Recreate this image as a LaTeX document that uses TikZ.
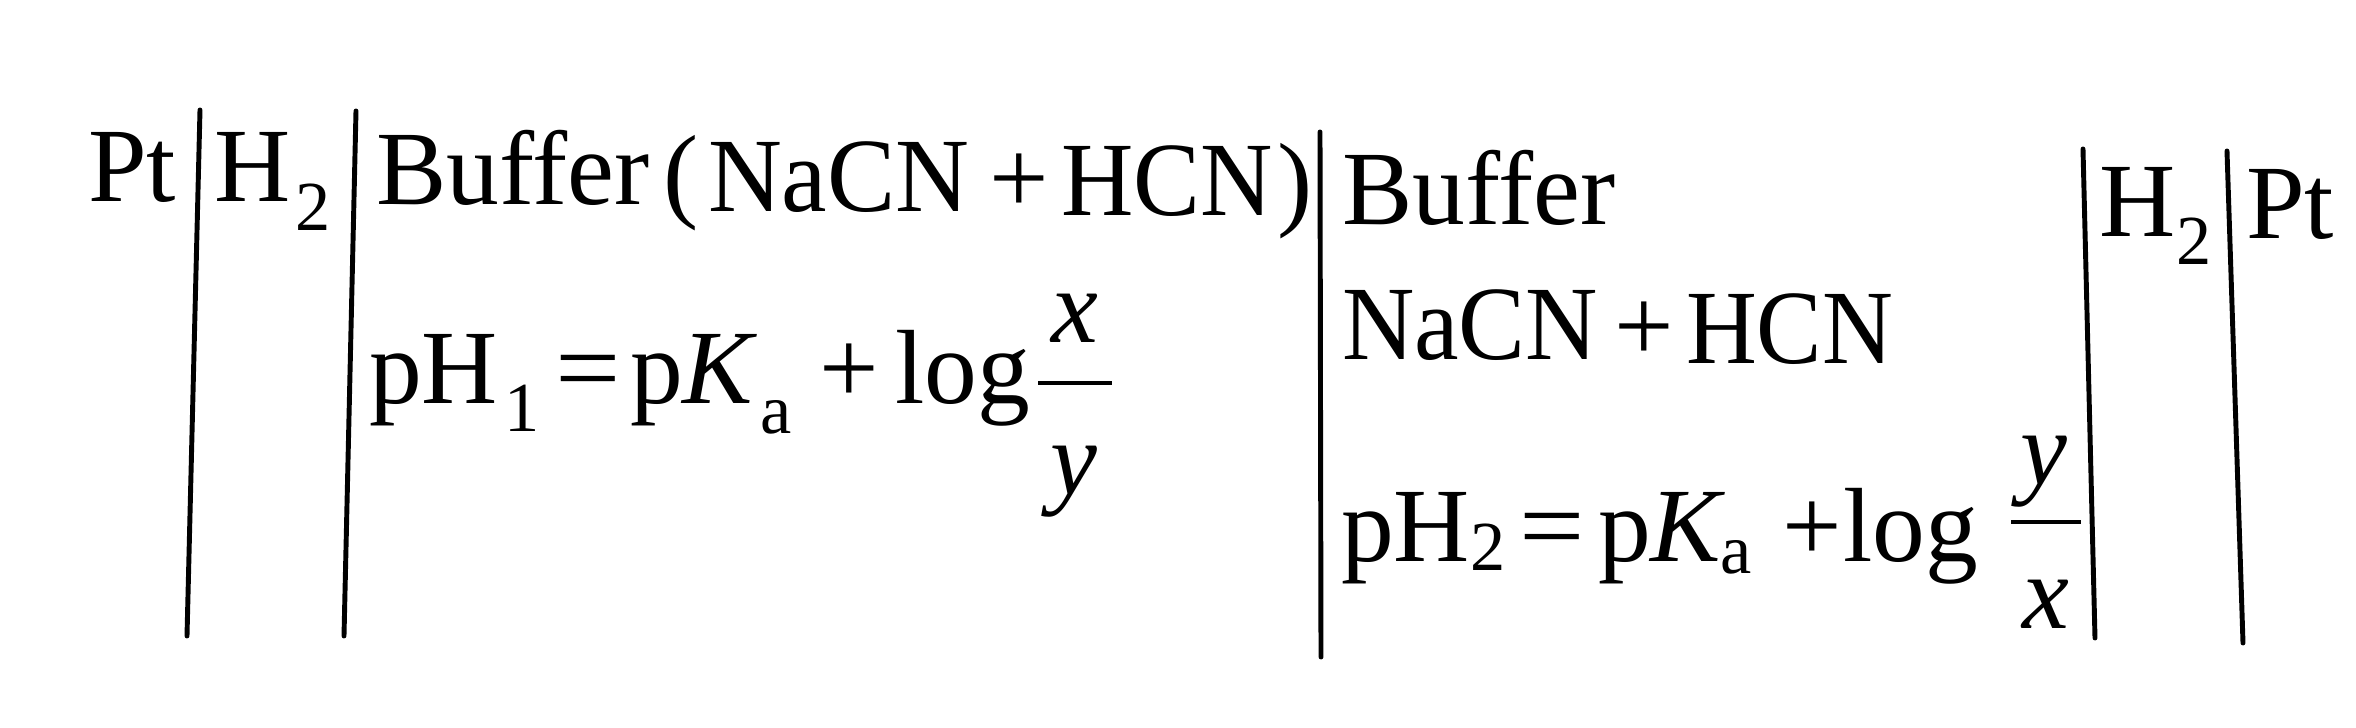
\documentclass[tikz,border=0pt]{standalone}
\usepackage{fontspec}
\usepackage{graphicx}
\setmainfont{Liberation Serif}
\begin{document}
\begin{tikzpicture}[x=0.01cm,y=-0.01cm,
  txt/.style={anchor=base west,inner sep=0pt,outer sep=0pt,font=\fontsize{30}{36}\selectfont},
  subtxt/.style={anchor=base west,inner sep=0pt,outer sep=0pt,font=\fontsize{20}{24}\selectfont},
  fracpart/.style={anchor=base,inner sep=0pt,outer sep=0pt,font=\fontsize{30}{36}\selectfont\itshape},
  sepline/.style={line width=1.4pt,line cap=round},
  barline/.style={line width=1.3pt}]
\useasboundingbox (0,0) rectangle (2356,728);
% left electrode
\node[txt] (ptL) at (88,202) {Pt};
\node[txt] (hL) at (214,202) {H};
\node[subtxt] (hLs) at (295,231) {2};
% left buffer, first line
\node[txt] (buf1) at (376,205) {Buffer};
\node[txt] (lp1) at (663,209) {(};
\node[txt] (na1) at (708,212) {\scalebox{0.97}[1]{NaCN}};
\node[txt] (pm1) at (989,214) {+};
\node[txt] (hc1) at (1061,216) {\scalebox{0.95}[1]{HCN}};
\node[txt] (rp1) at (1277,217) {)};
% left buffer, pH line
\node[txt] (ph1) at (369,404) {pH};
\node[subtxt] (ph1s) at (504,432) {1};
\node[txt] (eq1) at (555,404) {\scalebox{1.1}[1]{=}};
\node[txt] (pk1) at (630,404) {p\textit{K}};
\node[subtxt] (pk1s) at (760,434) {a};
\node[txt] (pl1) at (819,404) {+};
\node[txt] (log1) at (895,404) {log};
\node[fracpart] (num1) at (1075,343) {x};
\node[fracpart] (den1) at (1074,495) {y};
\coordinate (b1a) at (1038,383);
\coordinate (b1b) at (1112,383);
\draw[barline] (b1a) -- (b1b);
% right buffer
\node[txt] (buf2) at (1342,225) {Buffer};
\node[txt] (na2) at (1342,360) {\scalebox{0.95}[1]{NaCN}};
\node[txt] (pm2) at (1614,362) {+};
\node[txt] (hc2) at (1686,364) {\scalebox{0.93}[1]{HCN}};
\node[txt] (ph2) at (1341,562) {pH};
\node[subtxt] (ph2s) at (1470,571) {2};
\node[txt] (eq2) at (1519,562) {\scalebox{1.1}[1]{=}};
\node[txt] (pk2) at (1598,562) {p\textit{K}};
\node[subtxt] (pk2s) at (1720,574) {a};
\node[txt] (pl2) at (1782,562) {+};
\node[txt] (log2) at (1843,562) {log};
\node[fracpart] (num2) at (2044,485) {y};
\node[fracpart] (den2) at (2046,629) {x};
\coordinate (b2a) at (2011,522);
\coordinate (b2b) at (2081,522);
\draw[barline] (b2a) -- (b2b);
% right electrode
\node[txt] (hR) at (2099,237) {H};
\node[subtxt] (hRs) at (2176,265) {2};
\node[txt] (ptR) at (2246,239) {Pt};
% separators
\coordinate (l1t) at (200,110); \coordinate (l1b) at (187,636);
\coordinate (l2t) at (356,111); \coordinate (l2b) at (344,636);
\coordinate (l3t) at (1320,132); \coordinate (l3b) at (1321,657);
\coordinate (l4t) at (2083,149); \coordinate (l4b) at (2095,638);
\coordinate (l5t) at (2227,151); \coordinate (l5b) at (2243,643);
\draw[sepline] (l1t) -- (l1b);
\draw[sepline] (l2t) -- (l2b);
\draw[sepline] (l3t) -- (l3b);
\draw[sepline] (l4t) -- (l4b);
\draw[sepline] (l5t) -- (l5b);
\end{tikzpicture}
\end{document}
